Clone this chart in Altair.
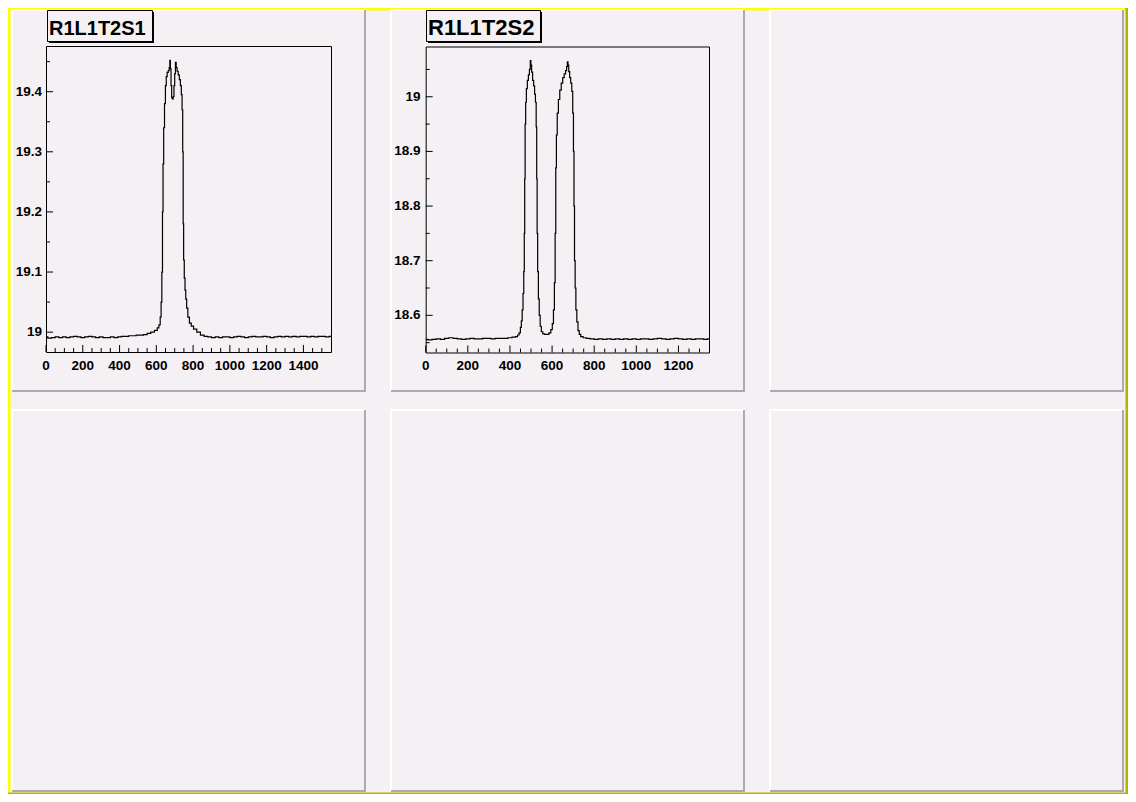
import altair as alt
import pandas as pd

# ---------------- data ----------------
titles = ["R1L1T2S1", "R1L1T2S2"]

x1 = [0, 20, 40, 60, 80, 100, 120, 140, 160, 180, 200, 220, 240, 260, 280, 300, 320, 340, 360, 380,
      400, 420, 440, 460, 480, 500, 520, 540, 560, 580, 600, 610, 618, 624, 628, 632, 635, 638, 642, 647,
      652, 656, 662, 668, 672, 675, 678, 682, 685, 690, 694, 698, 702, 706, 710, 716, 722, 728, 734, 738,
      742, 745, 747, 750, 754, 758, 762, 768, 775, 785, 795, 810, 830, 850, 870, 890, 910, 930, 950, 970,
      990, 1010, 1030, 1050, 1070, 1090, 1110, 1130, 1150, 1170, 1190, 1210, 1230, 1250, 1270, 1290, 1310,
      1330, 1350, 1370, 1390, 1410, 1430, 1450, 1470, 1490, 1510, 1530, 1550]
y1 = [18.992, 18.990, 18.991, 18.992, 18.991, 18.992, 18.991, 18.992, 18.993, 18.992, 18.991, 18.992,
      18.993, 18.992, 18.991, 18.992, 18.991, 18.991, 18.992, 18.991, 18.992, 18.993, 18.993, 18.994,
      18.994, 18.995, 18.995, 18.996, 18.998, 19.000, 19.003, 19.007, 19.012, 19.025, 19.05, 19.10, 19.20,
      19.28, 19.34, 19.38, 19.41, 19.425, 19.432, 19.435, 19.44, 19.452, 19.438, 19.41, 19.39, 19.388,
      19.392, 19.41, 19.43, 19.449, 19.44, 19.434, 19.428, 19.42, 19.41, 19.395, 19.37, 19.30, 19.18,
      19.12, 19.09, 19.07, 19.055, 19.04, 19.025, 19.015, 19.01, 19.005, 19.0, 18.995, 18.993, 18.992,
      18.991, 18.992, 18.991, 18.992, 18.992, 18.991, 18.992, 18.993, 18.992, 18.991, 18.992, 18.993,
      18.992, 18.992, 18.993, 18.992, 18.991, 18.992, 18.993, 18.992, 18.993, 18.992, 18.993, 18.992,
      18.993, 18.993, 18.992, 18.993, 18.992, 18.993, 18.993, 18.992, 18.993]

x2 = [0, 20, 40, 60, 80, 100, 120, 140, 160, 180, 200, 220, 240, 260, 280, 300, 320, 340, 360, 380,
      400, 420, 432, 440, 447, 452, 456, 460, 464, 467, 469, 471, 473, 476, 480, 485, 490, 495, 498, 501,
      505, 510, 515, 519, 523, 526, 528, 530, 533, 537, 541, 546, 552, 560, 570, 580, 590, 598, 604, 609,
      613, 616, 619, 622, 627, 633, 640, 647, 654, 661, 667, 671, 674, 677, 681, 686, 691, 696, 700, 703,
      705, 708, 711, 715, 720, 726, 732, 740, 755, 770, 790, 810, 830, 850, 870, 890, 910, 930, 950, 970,
      990, 1010, 1030, 1050, 1070, 1090, 1110, 1130, 1150, 1170, 1190, 1210, 1230, 1250, 1270, 1290,
      1310, 1330, 1345]
y2 = [18.556, 18.555, 18.556, 18.557, 18.556, 18.558, 18.559, 18.558, 18.557, 18.556, 18.557, 18.558,
      18.557, 18.557, 18.558, 18.558, 18.557, 18.558, 18.558, 18.558, 18.559, 18.560, 18.561, 18.564,
      18.568, 18.578, 18.59, 18.61, 18.64, 18.68, 18.75, 18.85, 18.95, 18.99, 19.015, 19.03, 19.04,
      19.05, 19.066, 19.058, 19.045, 19.03, 19.02, 19.005, 18.99, 18.945, 18.85, 18.75, 18.68, 18.63,
      18.60, 18.58, 18.57, 18.566, 18.565, 18.565, 18.568, 18.574, 18.585, 18.61, 18.66, 18.75, 18.87,
      18.93, 18.97, 18.995, 19.012, 19.025, 19.035, 19.042, 19.048, 19.055, 19.064, 19.058, 19.046,
      19.035, 19.025, 19.01, 18.97, 18.90, 18.80, 18.70, 18.65, 18.61, 18.588, 18.572, 18.565, 18.561,
      18.559, 18.558, 18.557, 18.556, 18.557, 18.556, 18.557, 18.556, 18.557, 18.556, 18.557, 18.556,
      18.557, 18.556, 18.557, 18.557, 18.556, 18.557, 18.558, 18.557, 18.556, 18.557, 18.558, 18.557,
      18.556, 18.557, 18.556, 18.557, 18.557, 18.556, 18.557]

x_major1 = [0, 200, 400, 600, 800, 1000, 1200, 1400]
x_minor1 = [v for v in range(50, 1550, 50) if v % 200]
y_major1 = [19.0, 19.1, 19.2, 19.3, 19.4]
y_labels1 = ["19", "19.1", "19.2", "19.3", "19.4"]
y_minor1 = [19.05, 19.15, 19.25, 19.35, 19.45]

x_major2 = [0, 200, 400, 600, 800, 1000, 1200]
x_minor2 = [v for v in range(50, 1345, 50) if v % 200]
y_major2 = [18.6, 18.7, 18.8, 18.9, 19.0]
y_labels2 = ["18.6", "18.7", "18.8", "18.9", "19"]
y_minor2 = [18.55, 18.65, 18.75, 18.85, 18.95, 19.05]

# ---------------- layout / style ----------------
OFF = 8                      # page margin: page coord -> svg coord
W, H = 1120, 786
BG = "#F4F0F4"
GRAY = "#ADA9AD"
FONT = "Liberation Sans"
one = pd.DataFrame({"d": [0]})


def V(v):
    return alt.value(v - OFF)


def box(x0, x1, y0, y1, **mk):
    return alt.Chart(one).mark_rect(**mk).encode(x=V(x0), x2=V(x1), y=V(y0), y2=V(y1))


layers = []

# canvas border
layers.append(alt.Chart(one).mark_rect(color="#FFFF00").encode(
    x=alt.value(0), x2=alt.value(2.5), y=alt.value(0), y2=alt.value(H)))
layers.append(alt.Chart(one).mark_rect(color="#FFFF00").encode(
    x=alt.value(0), x2=alt.value(W), y=alt.value(0), y2=alt.value(2.5)))
layers.append(alt.Chart(one).mark_rect(color="#B4B400").encode(
    x=alt.value(W - 2.5), x2=alt.value(W), y=alt.value(0), y2=alt.value(H)))
layers.append(alt.Chart(one).mark_rect(color="#B4B400").encode(
    x=alt.value(0), x2=alt.value(W), y=alt.value(H - 1.5), y2=alt.value(H)))

# pads (3 columns x 2 rows)
pad_x = [11, 390, 769]
pad_y = [9, 409]
PW, PH = 355, 383
for py in pad_y:
    for px in pad_x:
        layers.append(box(px, px + PW, py, py + 2, color="white"))
        layers.append(box(px, px + 2, py, py + PH, color="white"))
        layers.append(box(px + PW - 2, px + PW, py + 1, py + PH, color=GRAY))
        layers.append(box(px + 1, px + PW, py + PH - 2, py + PH, color=GRAY))


def plot(xs, ys, xdom, ydom, fx0, fx1, fy0, fy1, xmaj, xmin, ymaj, ylab, ymin,
         ylab_x, title, tbox, tfs):
    sx = alt.Scale(domain=xdom, range=[fx0 - OFF, fx1 - OFF], nice=False, zero=False)
    sy = alt.Scale(domain=ydom, range=[fy1 - OFF, fy0 - OFF], nice=False, zero=False)
    X = lambda f: alt.X(f, type="quantitative", scale=sx, axis=None)
    Y = lambda f: alt.Y(f, type="quantitative", scale=sy, axis=None)
    parts = []
    # frame
    parts.append(box(fx0 + 0.5, fx1 + 0.5, fy0 + 0.5, fy1 + 0.5,
                     fill=BG, stroke="black", strokeWidth=1))
    # curve (histogram-like steps)
    parts.append(alt.Chart(pd.DataFrame({"x": xs, "y": ys})).mark_line(
        color="black", strokeWidth=1.2, interpolate="step").encode(x=X("x"), y=Y("y")))
    # x ticks (inside)
    parts.append(alt.Chart(pd.DataFrame({"t": xmaj})).mark_rule(color="black", strokeWidth=1).encode(
        x=X("t"), y=V(fy1), y2=V(fy1 - 7)))
    parts.append(alt.Chart(pd.DataFrame({"t": xmin})).mark_rule(color="black", strokeWidth=1).encode(
        x=X("t"), y=V(fy1), y2=V(fy1 - 4)))
    # y ticks (inside)
    parts.append(alt.Chart(pd.DataFrame({"t": ymaj})).mark_rule(color="black", strokeWidth=1).encode(
        y=Y("t"), x=V(fx0), x2=V(fx0 + 7)))
    parts.append(alt.Chart(pd.DataFrame({"t": ymin})).mark_rule(color="black", strokeWidth=1).encode(
        y=Y("t"), x=V(fx0), x2=V(fx0 + 4)))
    # tick labels
    parts.append(alt.Chart(pd.DataFrame({"t": xmaj, "l": [str(v) for v in xmaj]})).mark_text(
        font=FONT, fontSize=13.5, fontWeight="bold", align="center", baseline="middle",
        color="black").encode(x=X("t"), y=V(366), text="l:N"))
    parts.append(alt.Chart(pd.DataFrame({"t": ymaj, "l": ylab})).mark_text(
        font=FONT, fontSize=13.5, fontWeight="bold", align="right", baseline="middle",
        color="black").encode(y=Y("t"), x=V(ylab_x), text="l:N"))
    # title box with shadow
    bx0, bx1, by0, by1 = tbox
    parts.append(box(bx0 + 2, bx1 + 2, by0 + 2, by1 + 2, color="black"))
    parts.append(box(bx0 + 0.5, bx1 + 0.5, by0 + 0.5, by1 + 0.5,
                     fill=BG, stroke="black", strokeWidth=1))
    parts.append(alt.Chart(one).mark_text(
        font=FONT, fontSize=tfs, fontWeight="bold", align="left", baseline="alphabetic",
        color="black").encode(x=V(bx0 + 2), y=V(34.5), text=alt.value(title)))
    return alt.layer(*parts)


layers.append(plot(x1, y1, [0, 1550], [18.967, 19.476], 46, 331, 46, 352,
                   x_major1, x_minor1, y_major1, y_labels1, y_minor1, 42,
                   titles[0], (47, 152, 10, 41), 20))
layers.append(plot(x2, y2, [0, 1345], [18.532, 19.092], 425.7, 709, 46.5, 352.5,
                   x_major2, x_minor2, y_major2, y_labels2, y_minor2, 420.5,
                   titles[1], (426, 540, 10, 41), 22))

chart = alt.layer(*layers).resolve_scale(x="independent", y="independent").properties(
    width=W, height=H, padding=0, background=BG,
    autosize=alt.AutoSizeParams(type="none"),
).configure_view(stroke=None)

chart.save("out.html", embed_options={"renderer": "svg", "actions": False})
